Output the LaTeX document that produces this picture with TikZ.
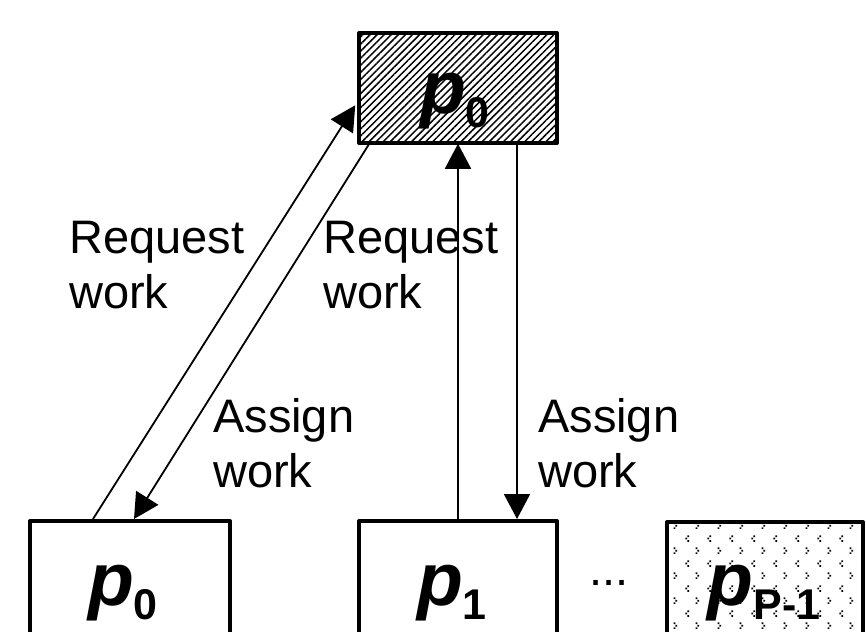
\documentclass[tikz,border=0pt]{standalone}
\usepackage{fontspec}
\setmainfont{Liberation Sans}
\usetikzlibrary{arrows.meta,patterns,patterns.meta,calc}

\pgfdeclarepattern{
  name=chevdots,
  type=uncolored,
  bottom left={\pgfpoint{0pt}{0pt}},
  top right={\pgfpoint{22pt}{25pt}},
  tile size={\pgfpoint{22pt}{25pt}},
  code={
    \pgfpathrectangle{\pgfpoint{5.6pt}{20.6pt}}{\pgfpoint{1.8pt}{1.8pt}}
    \pgfpathrectangle{\pgfpoint{3.6pt}{18.1pt}}{\pgfpoint{1.8pt}{1.8pt}}
    \pgfpathrectangle{\pgfpoint{5.6pt}{15.6pt}}{\pgfpoint{1.8pt}{1.8pt}}
    \pgfpathrectangle{\pgfpoint{14.1pt}{8.1pt}}{\pgfpoint{1.8pt}{1.8pt}}
    \pgfpathrectangle{\pgfpoint{16.1pt}{5.6pt}}{\pgfpoint{1.8pt}{1.8pt}}
    \pgfpathrectangle{\pgfpoint{14.1pt}{3.1pt}}{\pgfpoint{1.8pt}{1.8pt}}
    \pgfusepath{fill}
  }
}

\newcommand\proclab[1]{\fontsize{75}{75}\selectfont\bfseries\itshape p\raisebox{-14pt}{\fontsize{43}{43}\selectfont\bfseries\upshape #1}}

\begin{document}
\begin{tikzpicture}[x=1pt,y=-1pt,
  box/.style={draw, line width=4pt, line join=round, inner sep=0pt},
  lbl/.style={font=\fontsize{47}{55}\selectfont, align=left, inner sep=0pt},
  plab/.style={inner sep=0pt, anchor=base},
  arr/.style={line width=1.8pt, -{Triangle[length=25pt,width=26pt]}}]
\useasboundingbox (0,0) rectangle (866,631);

\node[box, minimum width=198pt, minimum height=110pt,
      pattern={Lines[angle=45,distance=5pt,line width=1.5pt]}] (top) at (458,88) {};
\node[box, minimum width=200pt, minimum height=116pt] (b0) at (130,579) {};
\node[box, minimum width=198pt, minimum height=116pt] (b1) at (458,579) {};
\node[box, minimum width=196pt, minimum height=116pt, pattern=chevdots] (b2) at (765,580) {};

\node[plab] (ltop) at (455,114) {\proclab{0}};
\node[plab] (lb0) at (123,605) {\proclab{0}};
\node[plab] (lb1) at (452,605) {\proclab{1}};
\node[plab] (lb2) at (764,605) {\proclab{P-1}};

\node[lbl, anchor=base west] (rq1) at (69,308) {Request\\work};
\node[lbl, anchor=base west] (rq2) at (323,308) {Request\\work};
\node[lbl, anchor=base west] (as1) at (213,487) {Assign\\work};
\node[lbl, anchor=base west] (as2) at (538,487) {Assign\\work};
\node[lbl, anchor=base west] (dots) at (589,585) {...};

\draw[arr] ($(b0.north west)+(65,0)$) -- ($(top.north west)+(-3,73)$);
\draw[arr] ($(top.south west)+(11,0)$) -- ($(b0.north west)+(106,0)$);
\draw[arr] (b1.north) -- (b1.north |- top.south);
\draw[arr] ($(top.south)+(59,0)$) -- ($(b1.north)+(59,0)$);
\end{tikzpicture}
\end{document}
